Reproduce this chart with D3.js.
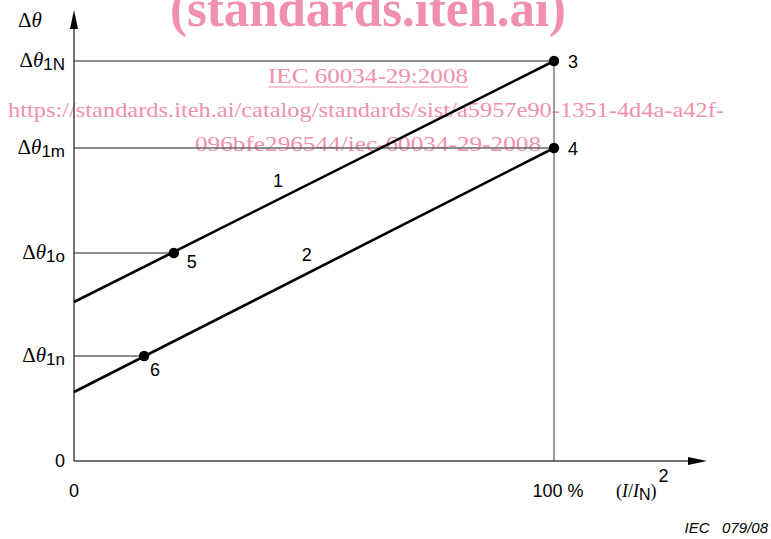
<!DOCTYPE html>
<html>
<head>
<meta charset="utf-8">
<script src="https://cdn.jsdelivr.net/npm/d3@7"></script>
<style>
  html, body { margin: 0; padding: 0; background: #fff; }
  svg { display: block; }
</style>
</head>
<body>
<svg id="chart" width="771" height="539"></svg>
<script>
// ---- data ----
const xDomain = [0, 100];
const yDomain = [0, 1];
const xTickLabels = ["0", "100 %"];
const xTickValues = [0, 100];
const levelSubs = ["1N", "1m", "1o", "1n"];
const levelValues = [1.0, 0.7825, 0.52, 0.2625];
const levelEndX = [100, 100, 20.8, 14.6];
const line1 = [[0, 0.3975], [100, 1.0]];
const line2 = [[0, 0.1725], [100, 0.7825]];
const lineLabels = ["1", "2"];
const lineLabelX = [42.5, 48.5];
const lineLabelY = [0.685, 0.50];
const pointX = [100, 100, 20.8, 14.6];
const pointY = [1.0, 0.7825, 0.52, 0.2625];
const pointLabels = ["3", "4", "5", "6"];
const watermark = [
  "(standards.iteh.ai)",
  "IEC 60034-29:2008",
  "https://standards.iteh.ai/catalog/standards/sist/a5957e90-1351-4d4a-a42f-",
  "096bfe296544/iec-60034-29-2008"
];

// ---- scales ----
const svg = d3.select("#chart");
const x = d3.scaleLinear().domain(xDomain).range([74, 554]);
const y = d3.scaleLinear().domain(yDomain).range([461, 61]);

const gray = "#666";
const pink = "#f08fae";
const sans = "'Liberation Sans', Arial, sans-serif";
const serif = "'Liberation Serif', 'Times New Roman', serif";

// watermark (drawn beneath)
svg.append("text").attr("x", 170).attr("y", 26)
  .attr("font-family", serif).attr("font-weight", "bold").attr("font-size", 52)
  .attr("fill", pink).attr("textLength", 396).attr("lengthAdjust", "spacingAndGlyphs").text(watermark[0]);
svg.append("text").attr("x", 268).attr("y", 83)
  .attr("font-family", serif).attr("font-size", 21).attr("fill", pink)
  .attr("textLength", 200).attr("lengthAdjust", "spacingAndGlyphs").text(watermark[1]);
svg.append("line").attr("x1", 268).attr("x2", 468).attr("y1", 87).attr("y2", 87)
  .attr("stroke", pink).attr("stroke-width", 1.2);
svg.append("text").attr("x", 8).attr("y", 117)
  .attr("font-family", serif).attr("font-size", 21).attr("fill", pink)
  .attr("textLength", 716).attr("lengthAdjust", "spacingAndGlyphs").text(watermark[2]);
svg.append("text").attr("x", 195).attr("y", 151)
  .attr("font-family", serif).attr("font-size", 21).attr("fill", pink)
  .attr("textLength", 346).attr("lengthAdjust", "spacingAndGlyphs").text(watermark[3]);

// guide lines
const g = svg.append("g");
levelValues.forEach((v, i) => {
  g.append("line")
    .attr("x1", x(0)).attr("x2", x(levelEndX[i]))
    .attr("y1", y(v)).attr("y2", y(v))
    .attr("stroke", gray).attr("stroke-width", 1.3);
});
g.append("line")
  .attr("x1", x(100)).attr("x2", x(100))
  .attr("y1", y(0)).attr("y2", y(levelValues[0]))
  .attr("stroke", gray).attr("stroke-width", 1.3);

// axes
g.append("line").attr("x1", x(0)).attr("x2", x(0)).attr("y1", y(0)).attr("y2", 26)
  .attr("stroke", "#444").attr("stroke-width", 1.5);
g.append("line").attr("x1", x(0)).attr("x2", 690).attr("y1", y(0)).attr("y2", y(0))
  .attr("stroke", "#444").attr("stroke-width", 1.5);
g.append("path").attr("d", `M${x(0)},10 L${x(0)-4},29 L${x(0)+4},29 Z`).attr("fill", "#000");
g.append("path").attr("d", `M707,${y(0)} L688,${y(0)-4} L688,${y(0)+4} Z`).attr("fill", "#000");

// data lines
const lineGen = d3.line().x(d => x(d[0])).y(d => y(d[1]));
[line1, line2].forEach(l => {
  svg.append("path").attr("d", lineGen(l)).attr("fill", "none")
    .attr("stroke", "#000").attr("stroke-width", 2.6);
});

// points
svg.selectAll("circle.pt").data(pointX).enter().append("circle")
  .attr("cx", (d) => x(d)).attr("cy", (d, i) => y(pointY[i])).attr("r", 5.2).attr("fill", "#000");

// point labels
const plOff = [[14, 7], [14, 7], [13, 15], [6, 20]];
pointLabels.forEach((t, i) => {
  svg.append("text").attr("x", x(pointX[i]) + plOff[i][0]).attr("y", y(pointY[i]) + plOff[i][1])
    .attr("font-family", sans).attr("font-size", 18).text(t);
});
lineLabels.forEach((t, i) => {
  svg.append("text").attr("x", x(lineLabelX[i])).attr("y", y(lineLabelY[i]))
    .attr("font-family", sans).attr("font-size", 18).attr("text-anchor", "middle").text(t);
});

// y level labels
levelSubs.forEach((s, i) => {
  const t = svg.append("text").attr("x", 65).attr("y", y(levelValues[i]) + 6)
    .attr("text-anchor", "end").attr("font-size", 21);
  t.append("tspan").attr("font-family", serif).text("Δ");
  t.append("tspan").attr("font-family", serif).attr("font-style", "italic").text("θ");
  t.append("tspan").attr("font-family", sans).attr("font-size", 17).attr("dy", 3).text(s);
});

// axis title Δθ
const at = svg.append("text").attr("x", 18).attr("y", 27).attr("font-size", 21);
at.append("tspan").attr("font-family", serif).text("Δ");
at.append("tspan").attr("font-family", serif).attr("font-style", "italic").text("θ");

// y zero
svg.append("text").attr("x", 60).attr("y", y(0) + 6).attr("text-anchor", "middle")
  .attr("font-family", sans).attr("font-size", 18).text("0");

// x tick labels
const tickShift = [0, 4];
xTickValues.forEach((v, i) => {
  svg.append("text").attr("x", x(v) + tickShift[i]).attr("y", 497).attr("text-anchor", "middle")
    .attr("font-family", sans).attr("font-size", 18).text(xTickLabels[i]);
});

// x axis title (I/IN)^2
const xt = svg.append("text").attr("x", 616).attr("y", 497).attr("font-size", 18);
xt.append("tspan").attr("font-family", serif).text("(");
xt.append("tspan").attr("font-family", serif).attr("font-style", "italic").text("I");
xt.append("tspan").attr("font-family", serif).text("/");
xt.append("tspan").attr("font-family", serif).attr("font-style", "italic").text("I");
xt.append("tspan").attr("font-family", sans).attr("font-size", 16).attr("dy", 3).text("N");
xt.append("tspan").attr("font-family", serif).attr("dy", -3).text(")");
xt.append("tspan").attr("font-family", sans).attr("font-size", 18).attr("dx", 2).attr("dy", -15).text("2");

// IEC code
svg.append("text").attr("x", 768).attr("y", 533).attr("text-anchor", "end")
  .attr("font-family", sans).attr("font-style", "italic").attr("font-size", 15)
  .attr("xml:space", "preserve").text("IEC   079/08");
</script>
</body>
</html>
